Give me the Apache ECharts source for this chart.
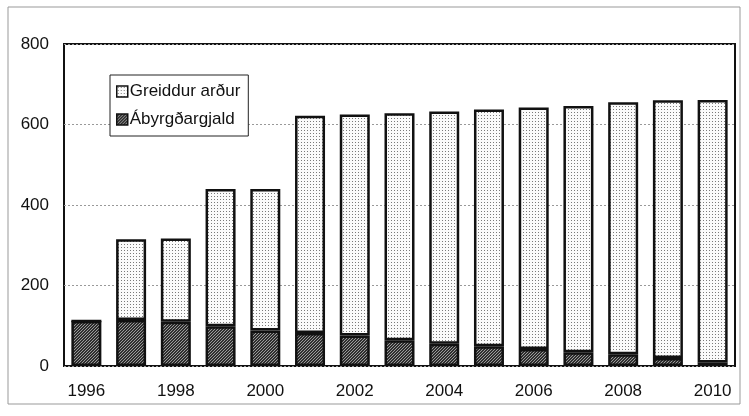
<!DOCTYPE html>
<html>
<head>
<meta charset="utf-8">
<script src="https://cdn.jsdelivr.net/npm/echarts@6/dist/echarts.min.js"></script>
<style>
  html, body { margin: 0; padding: 0; background: #fff; }
  #chart { width: 749px; height: 416px; }
</style>
</head>
<body>
<div id="chart"></div>
<script>
// years on the x axis
var years = ['1996', '1997', '1998', '1999', '2000', '2001', '2002', '2003',
  '2004', '2005', '2006', '2007', '2008', '2009', '2010']
// bottom part of each bar
var abyrgdargjald = [112, 114, 110, 99, 88, 82, 76, 64, 55, 49, 42, 34, 29, 20, 9]
// top part of each bar
var greiddurArdur = [0, 201, 207, 341, 352, 540, 549, 564, 577, 588, 600, 612, 626, 640, 652]
var yTicks = [0, 200, 400, 600, 800]

// small dotted fills, like the printed screen tones
function makePattern(bg, dot, size, spots) {
  var c = document.createElement('canvas')
  c.width = size
  c.height = size
  var ctx = c.getContext('2d')
  ctx.fillStyle = bg
  ctx.fillRect(0, 0, size, size)
  ctx.fillStyle = dot
  spots.forEach(function(p) {
    ctx.fillRect(p[0], p[1], 1, 1)
  })
  return c
}

var lightFill = {
  image: makePattern('#fbfbfb', '#7a7a7a', 3, [[1, 1]]),
  repeat: 'repeat'
}
var darkFill = {
  image: makePattern('#2e2e2e', '#9a9a9a', 3, [[0, 0], [2, 1], [1, 2]]),
  repeat: 'repeat'
}

var chart = echarts.init(document.getElementById('chart'))

var option = {
  backgroundColor: '#fff',
  animation: false,
  textStyle: {
    fontFamily: 'Liberation Sans, Arial, sans-serif'
  },
  graphic: [{
    type: 'rect',
    shape: { x: 8, y: 7, width: 732, height: 397 },
    style: { fill: 'none', stroke: '#999', lineWidth: 1 },
    z: 0
  }],
  legend: {
    data: ['Greiddur arður', 'Ábyrgðargjald'],
    orient: 'vertical',
    left: 110,
    top: 75,
    itemWidth: 11,
    itemHeight: 11,
    itemGap: 11,
    padding: [8, 8, 8, 6],
    backgroundColor: '#fff',
    borderColor: '#222',
    borderWidth: 1,
    icon: 'rect',
    itemStyle: {
      borderColor: '#111',
      borderWidth: 1.5
    },
    textStyle: {
      color: '#111',
      fontSize: 17,
      padding: [0, 0, 0, -3]
    },
    z: 10
  },
  grid: {
    left: 64,
    right: 14,
    top: 44,
    bottom: 50,
    show: true,
    borderColor: '#111',
    borderWidth: 2
  },
  xAxis: {
    type: 'category',
    data: years,
    axisLine: { show: false },
    axisTick: { show: false },
    axisLabel: {
      interval: 1,
      color: '#111',
      fontSize: 17,
      margin: 17
    }
  },
  yAxis: {
    type: 'value',
    min: yTicks[0],
    max: yTicks[yTicks.length - 1],
    interval: 200,
    axisLine: { show: false },
    axisTick: { show: false },
    axisLabel: {
      color: '#111',
      fontSize: 17,
      margin: 15
    },
    splitLine: {
      show: true,
      lineStyle: {
        color: '#999',
        type: [2, 2],
        width: 1
      }
    }
  },
  series: [{
    name: 'Ábyrgðargjald',
    type: 'bar',
    stack: 'total',
    data: abyrgdargjald,
    barWidth: 30,
    itemStyle: {
      color: darkFill,
      borderColor: '#111',
      borderWidth: 2.5
    }
  }, {
    name: 'Greiddur arður',
    type: 'bar',
    stack: 'total',
    data: greiddurArdur,
    barWidth: 30,
    itemStyle: {
      color: lightFill,
      borderColor: '#111',
      borderWidth: 2.5
    }
  }]
}

chart.setOption(option)
</script>
</body>
</html>
